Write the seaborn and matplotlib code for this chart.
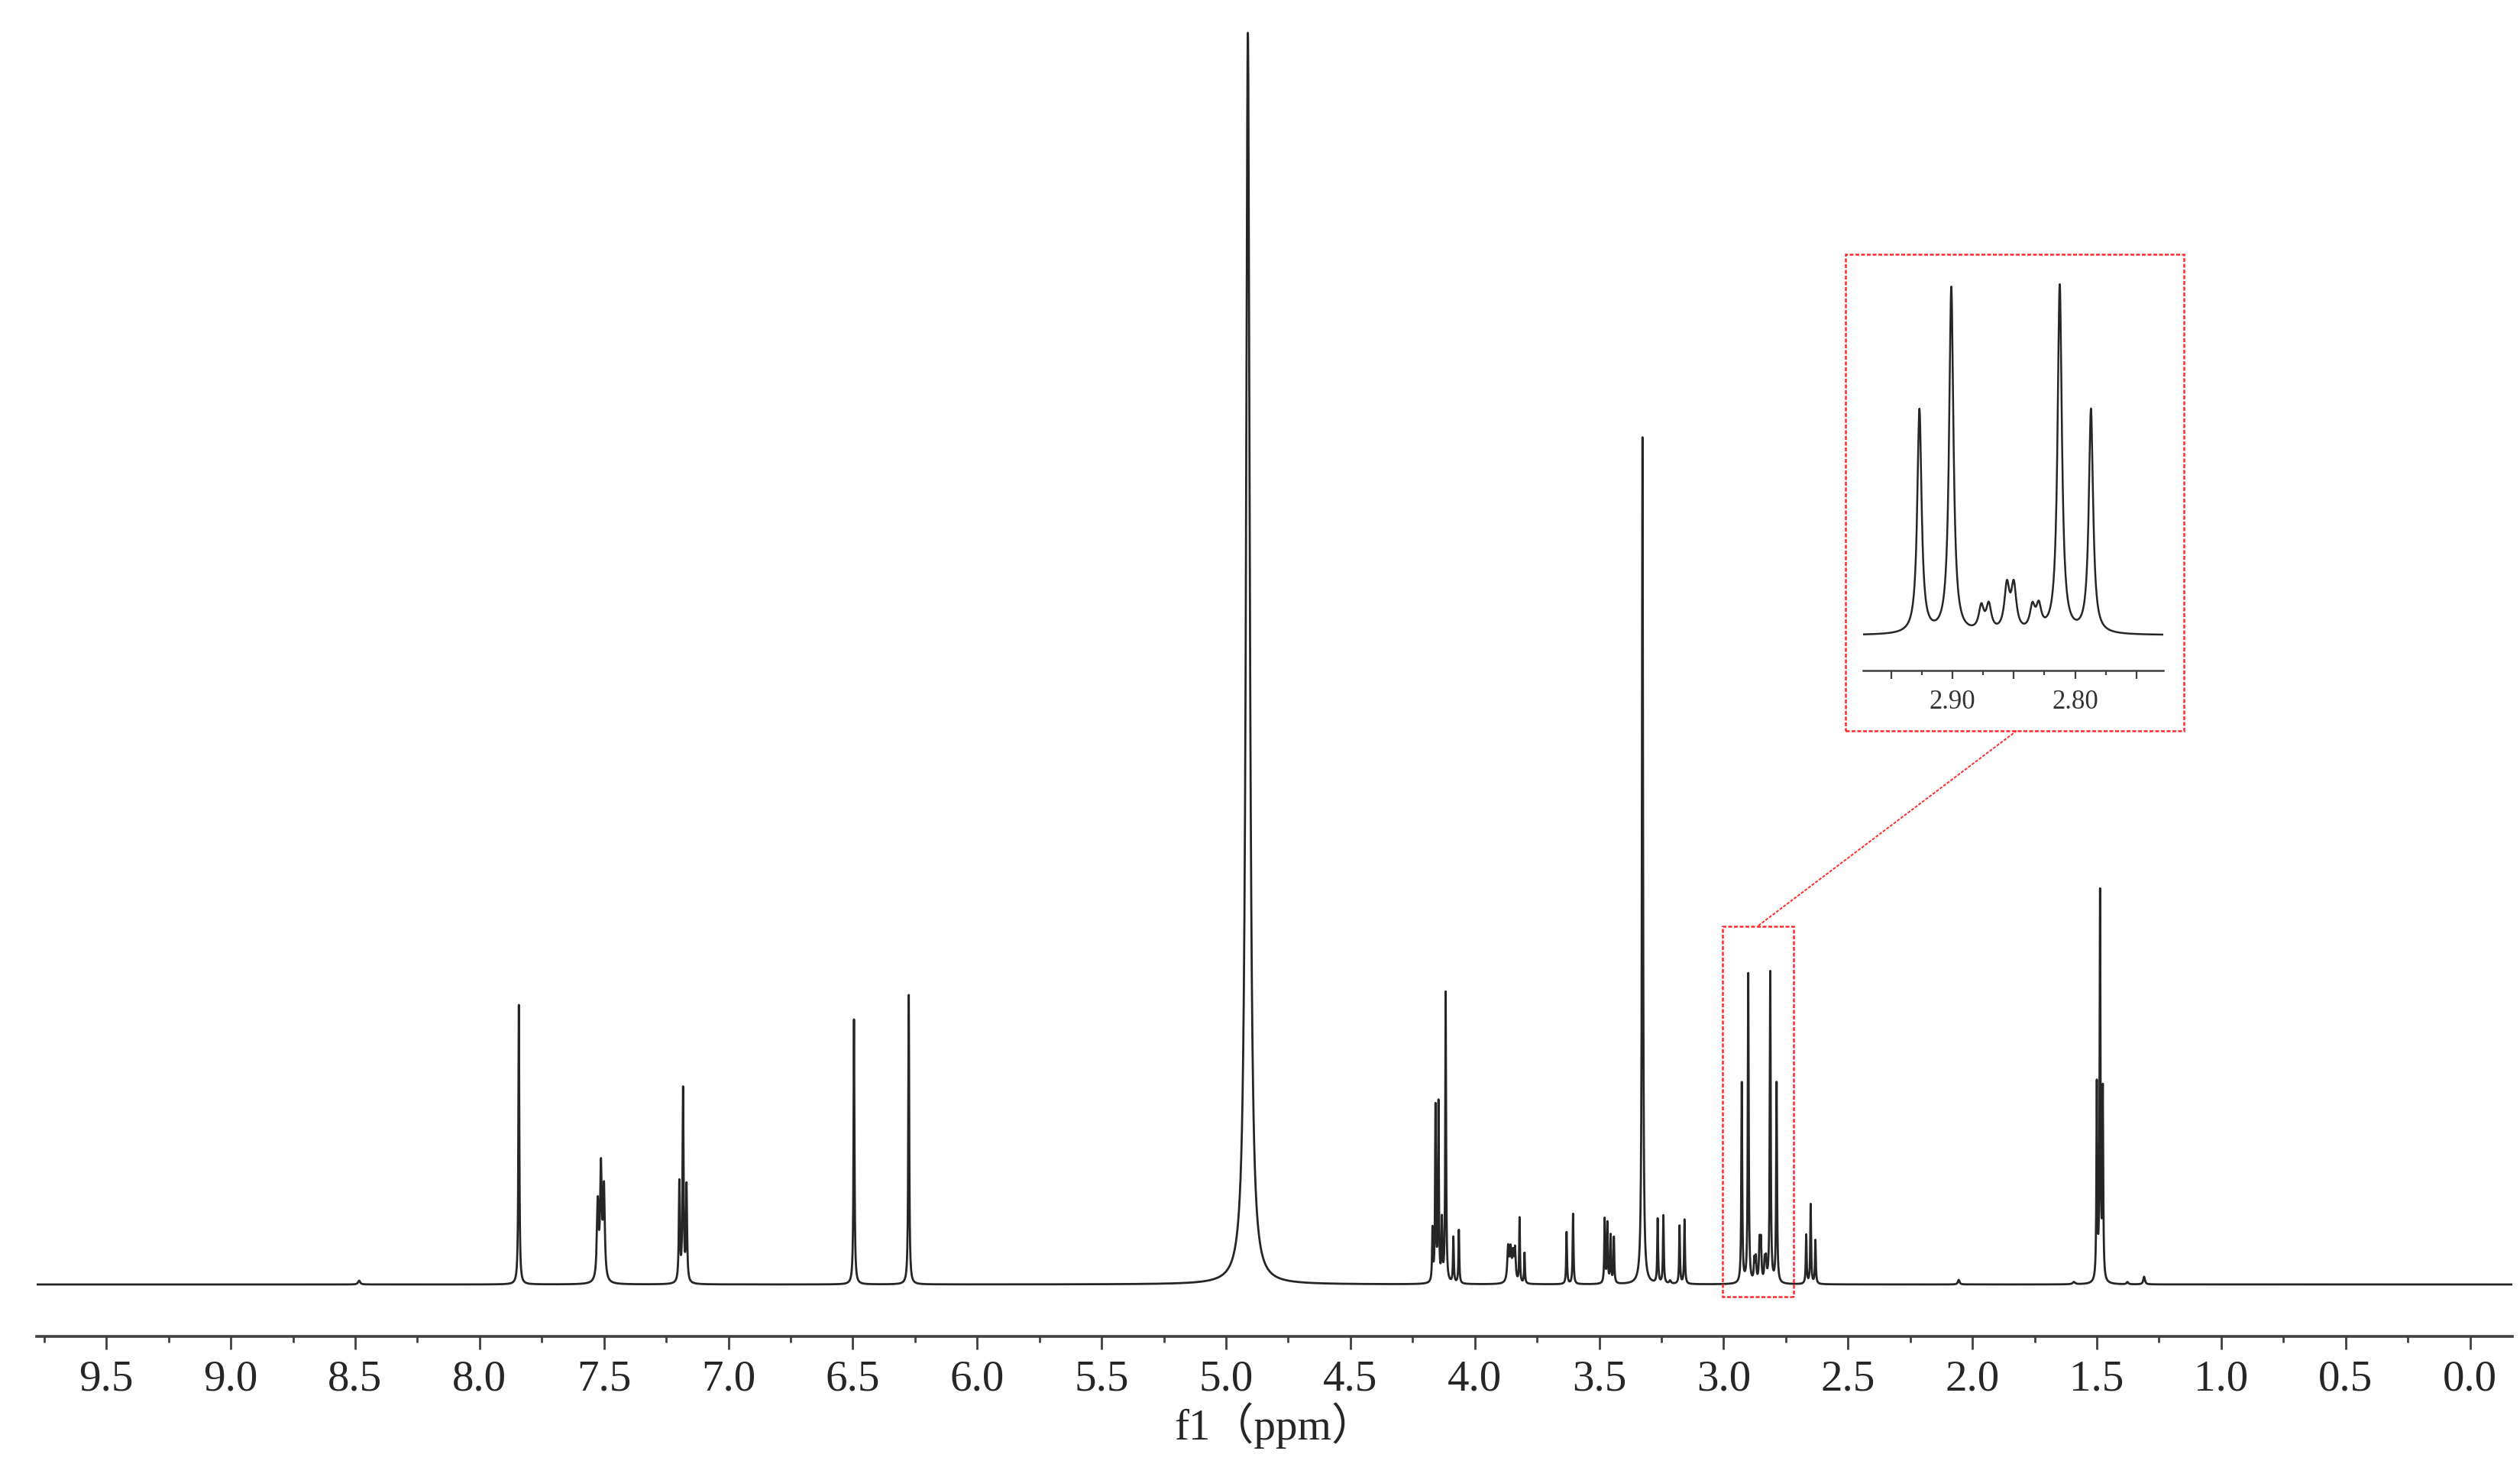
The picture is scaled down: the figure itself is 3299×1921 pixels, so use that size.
import numpy as np
import pandas as pd
import matplotlib
matplotlib.use('Agg')
import matplotlib.pyplot as plt
import seaborn as sns
from matplotlib.patches import Rectangle
from matplotlib.lines import Line2D
from matplotlib.ticker import MultipleLocator, FormatStrFormatter

# peak list: shift (ppm), height, half width (ppm)
peak_ppm = [8.484,
            7.842, 7.525, 7.512, 7.500, 7.197, 7.182, 7.168,
            6.495, 6.275, 4.912,
            4.170, 4.158, 4.146, 4.132, 4.117, 4.086, 4.064,
            3.866, 3.856, 3.846, 3.838, 3.820, 3.800,
            3.631, 3.605, 3.478, 3.467, 3.454, 3.441,
            3.326, 3.265, 3.242, 3.215, 3.177, 3.157,
            2.927, 2.901, 2.8765, 2.8704, 2.8556, 2.850, 2.8348, 2.8296,
            2.8125, 2.787,
            2.668, 2.650, 2.631, 2.055, 1.592,
            1.500, 1.487, 1.476, 1.377, 1.310]
peak_height = [5,
               366, 100, 145, 118, 130, 252, 125,
               347, 379, 1639,
               68, 228, 232, 78, 380, 60, 70,
               45, 40, 35, 40, 85, 40,
               68, 92, 84, 78, 62, 60,
               1109, 84, 89, 4, 76, 84,
               262, 405, 28, 30, 52, 52, 27, 27,
               408, 262,
               64, 104, 57, 6, 3,
               255, 505, 245, 3, 10]
peak_width = [0.005,
              0.0022, 0.004, 0.004, 0.004, 0.0025, 0.0025, 0.0025,
              0.0022, 0.0022, 0.009,
              0.002, 0.002, 0.002, 0.002, 0.002, 0.002, 0.002,
              0.004, 0.004, 0.004, 0.003, 0.0018, 0.0018,
              0.002, 0.002, 0.002, 0.002, 0.002, 0.002,
              0.0025, 0.002, 0.002, 0.004, 0.002, 0.002,
              0.0021, 0.0021, 0.0025, 0.0025, 0.0025, 0.0025, 0.0025, 0.0025,
              0.0021, 0.0021,
              0.002, 0.002, 0.002, 0.004, 0.006,
              0.002, 0.002, 0.002, 0.004, 0.004]

inset_ticks = [2.95, 2.90, 2.85, 2.80, 2.75]
inset_labels = ['', '2.90', '', '2.80', '']

# lorentzian line shapes summed over the peak list
ppm = np.arange(-0.2, 9.8, 0.0002)
spec = np.zeros_like(ppm)
for p, h, g in zip(peak_ppm, peak_height, peak_width):
    spec += h * g**2 / (g**2 + (ppm - p)**2)
df = pd.DataFrame({'ppm': ppm, 'intensity': spec})

sns.set_style('ticks')
plt.rcParams['font.family'] = ['Liberation Serif', 'Noto Sans CJK SC']

W, H = 3299, 1921
fig = plt.figure(figsize=(W / 100, H / 100), dpi=100)
line_col = '#262626'
red = '#ff2a2a'

ax = fig.add_axes([48 / W, 1 - 1750 / H, 3241 / W, 1730 / H])
sns.lineplot(data=df, x='ppm', y='intensity', ax=ax, color=line_col,
             linewidth=2.0, estimator=None, sort=False)
ax.set_xlim(9.78, -0.17)
ax.set_ylim(-68, 1662)
ax.xaxis.set_major_locator(MultipleLocator(0.5))
ax.xaxis.set_minor_locator(MultipleLocator(0.25))
ax.xaxis.set_major_formatter(FormatStrFormatter('%.1f'))
ax.tick_params(axis='x', which='major', length=12, width=2.0, direction='out',
               labelsize=41, pad=10, color='#404040')
ax.tick_params(axis='x', which='minor', length=6, width=2.0, direction='out',
               color='#404040')
ax.set_yticks([])
ax.set_ylabel('')
for s in ['left', 'top', 'right']:
    ax.spines[s].set_visible(False)
ax.spines['bottom'].set_linewidth(2.6)
ax.spines['bottom'].set_color('#404040')
ax.set_xlabel('f1（ppm）', fontsize=41)
ax.xaxis.set_label_coords(0.5, -0.05)
ax.patch.set_alpha(0)

# dashed box around the zoomed region
ax.add_patch(Rectangle((2.718, -16), 0.285, 485, fill=False, edgecolor=red,
                       linestyle=(0, (2, 1)), linewidth=1.8, zorder=5))

# inset
axin = fig.add_axes([2439 / W, 1 - 878 / H, 393 / W, 533 / H])
sub = df[(df['ppm'] >= 2.728) & (df['ppm'] <= 2.973)]
sns.lineplot(data=sub, x='ppm', y='intensity', ax=axin, color=line_col,
             linewidth=1.8, estimator=None, sort=False)
axin.set_xlim(2.973, 2.728)
axin.set_ylim(-41, 435)
axin.set_xticks(inset_ticks)
axin.set_xticklabels(inset_labels)
axin.set_xticks([2.925, 2.875, 2.825, 2.775], minor=True)
axin.tick_params(axis='x', which='major', length=8, width=1.6, direction='out',
                 labelsize=25, pad=10, color='#404040', labelcolor='#333333')
axin.tick_params(axis='x', which='minor', length=4, width=1.6, direction='out',
                 color='#404040')
axin.set_yticks([])
axin.set_xlabel('')
axin.set_ylabel('')
for s in ['left', 'top', 'right']:
    axin.spines[s].set_visible(False)
axin.spines['bottom'].set_linewidth(1.8)
axin.spines['bottom'].set_color('#404040')
axin.patch.set_alpha(0)

fig.add_artist(Rectangle((2416 / W, 1 - 957 / H), 443 / W, 624 / H,
                         transform=fig.transFigure, fill=False, edgecolor=red,
                         linestyle=(0, (2, 1)), linewidth=1.8))
fig.add_artist(Line2D([2302 / W, 2640 / W], [1 - 1212 / H, 1 - 957 / H],
                      transform=fig.transFigure, color=red,
                      linestyle=(0, (2, 1)), linewidth=1.4))

fig.savefig('out.png', dpi=100)
